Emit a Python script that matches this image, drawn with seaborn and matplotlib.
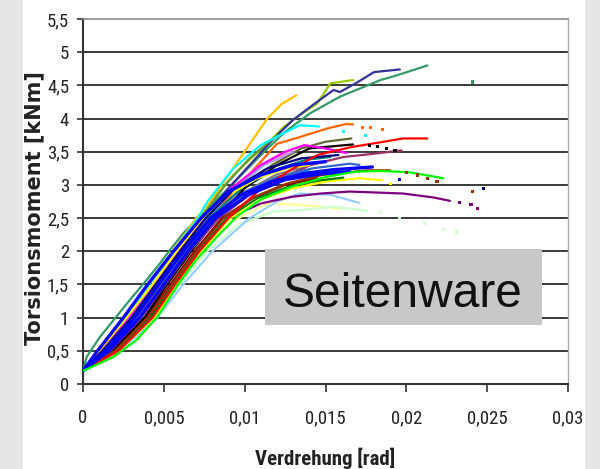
import matplotlib
matplotlib.use("Agg")
import matplotlib.pyplot as plt
from matplotlib.patches import Rectangle
import seaborn as sns
import pandas as pd

# Twist in 10^-3 rad, torsional moment in kNm, one entry per specimen
curves = {
    "c01": ("#339966", [0, 0.23, 1.05, 1.88, 2.91, 3.94, 4.77, 5.38, 6.2, 6.8, 9.0, 11.0, 12.5, 14.05, 15.9, 18.4, 19.4, 21.3],
                       [0.2, 0.41, 0.71, 0.96, 1.27, 1.57, 1.82, 2.02, 2.27, 2.42, 2.95, 3.45, 3.8, 4.08, 4.33, 4.58, 4.65, 4.80]),
    "c02": ("#FFC000", [0, 1.5, 3.0, 4.5, 6.0, 7.0, 7.66, 8.5, 9.9, 11.4, 12.3, 13.2],
                       [0.2, 0.65, 1.15, 1.65, 2.15, 2.5, 2.67, 2.97, 3.47, 4.0, 4.22, 4.35]),
    "c03": ("#99CC00", [0, 1.3, 3.0, 4.4, 5.9, 7.3, 8.3, 9.3, 10.4, 11.4, 12.4, 13.4, 14.5, 15.3, 16.7],
                       [0.2, 0.5, 1.0, 1.5, 2.0, 2.5, 2.85, 3.15, 3.4, 3.62, 3.87, 4.05, 4.23, 4.53, 4.58]),
    "c04": ("#333399", [0, 1.2, 2.9, 4.5, 6.0, 7.5, 9.0, 10.5, 11.8, 13.0, 14.3, 15.5, 15.9, 17.0, 18.0, 19.6],
                       [0.2, 0.5, 1.0, 1.5, 2.0, 2.5, 2.95, 3.35, 3.7, 3.98, 4.22, 4.43, 4.40, 4.55, 4.70, 4.74]),
    "c05": ("#669933", [0, 1.1, 2.8, 4.3, 5.8, 7.3, 8.8, 10.3, 12.0],
                       [0.2, 0.5, 1.0, 1.5, 2.0, 2.5, 3.0, 3.4, 3.75]),
    "c06": ("#FF6600", [0, 1.6, 3.4, 4.9, 6.4, 7.9, 9.5, 11.0, 12.0, 13.4, 15.1, 16.3, 16.7],
                       [0.2, 0.5, 1.0, 1.5, 2.0, 2.5, 2.95, 3.35, 3.62, 3.72, 3.85, 3.92, 3.91]),
    "c07": ("#00FFFF", [0, 1.0, 2.6, 4.1, 5.6, 7.1, 7.7, 9.3, 11.0, 13.4, 14.6],
                       [0.2, 0.5, 1.0, 1.5, 2.0, 2.5, 2.75, 3.25, 3.6, 3.9, 3.88]),
    "c08": ("#666633", [0, 1.5, 3.3, 4.8, 6.4, 8.0, 9.8, 11.7, 13.5, 15.0, 16.6],
                       [0.2, 0.5, 1.0, 1.5, 2.0, 2.5, 2.95, 3.3, 3.55, 3.65, 3.70]),
    "c09": ("#9999FF", [0, 1.3, 3.0, 4.6, 6.1, 7.7, 9.4, 11.2, 13.0],
                       [0.2, 0.5, 1.0, 1.5, 2.0, 2.5, 2.95, 3.3, 3.5]),
    "c10": ("#FF99CC", [0, 1.2, 2.9, 4.4, 6.0, 7.6, 9.2, 11.0, 12.8],
                       [0.2, 0.5, 1.0, 1.5, 2.0, 2.5, 2.95, 3.3, 3.5]),
    "c11": ("#FFCC99", [0, 1.5, 3.3, 4.8, 6.3, 7.9, 9.6, 11.5, 13.5],
                       [0.2, 0.5, 1.0, 1.5, 2.0, 2.5, 2.9, 3.2, 3.35]),
    "c12": ("#008080", [0, 1.3, 3.1, 4.6, 6.1, 7.8, 9.6, 11.6, 13.8, 15.3],
                       [0.2, 0.5, 1.0, 1.5, 2.0, 2.5, 2.9, 3.2, 3.38, 3.42]),
    "c13": ("#33CCCC", [0, 1.7, 3.6, 5.1, 6.6, 8.3, 10.1, 12.0, 14.0],
                       [0.2, 0.5, 1.0, 1.5, 2.0, 2.5, 2.85, 3.1, 3.22]),
    "c14": ("#808080", [0, 1.5, 3.4, 4.9, 6.5, 8.1, 9.9, 11.9, 14.0],
                       [0.2, 0.5, 1.0, 1.5, 2.0, 2.5, 2.88, 3.15, 3.3]),
    "c15": ("#CC99FF", [0, 1.6, 3.5, 5.0, 6.6, 8.4, 10.4, 12.3],
                       [0.2, 0.5, 1.0, 1.5, 2.0, 2.5, 2.9, 3.12]),
    "c16": ("#800000", [0, 1.9, 3.9, 5.4, 6.9, 8.6, 10.5, 12.5, 14.5],
                       [0.2, 0.5, 1.0, 1.5, 2.0, 2.5, 2.8, 3.0, 3.1]),
    "c17": ("#000000", [0, 1.8, 3.8, 5.2, 6.7, 8.3, 10.0, 12.0, 14.0, 16.7],
                       [0.2, 0.5, 1.0, 1.5, 2.0, 2.5, 2.95, 3.3, 3.55, 3.61]),
    "c18": ("#993366", [0, 1.7, 3.6, 5.1, 6.6, 8.4, 10.3, 12.2, 14.1, 16.1, 18.0, 19.7],
                       [0.2, 0.5, 1.0, 1.5, 2.0, 2.5, 2.85, 3.1, 3.3, 3.42, 3.47, 3.52]),
    "c19": ("#FF00FF", [0, 1.1, 2.8, 4.4, 5.9, 7.5, 9.2, 11.0, 12.5, 13.7, 15.0, 16.3],
                       [0.2, 0.5, 1.0, 1.5, 2.0, 2.5, 2.95, 3.3, 3.5, 3.6, 3.55, 3.48]),
    "c20": ("#FFFF99", [0, 2.1, 4.3, 5.8, 7.4, 9.2, 11.4, 13.4, 15.9],
                       [0.2, 0.5, 1.0, 1.5, 2.0, 2.45, 2.72, 2.7, 2.64]),
    "c21": ("#CCFFCC", [0, 2.2, 4.5, 6.0, 7.7, 9.6, 11.8, 13.4, 15.5, 17.6],
                       [0.2, 0.5, 1.0, 1.5, 2.0, 2.4, 2.6, 2.62, 2.67, 2.61]),
    "c22": ("#99CCFF", [0, 2.3, 4.6, 6.2, 8.0, 10.3, 12.0, 13.4, 15.3, 16.5, 17.1],
                       [0.2, 0.5, 1.0, 1.5, 2.0, 2.5, 2.75, 2.87, 2.85, 2.77, 2.73]),
    "c23": ("#800080", [0, 2.0, 4.1, 5.6, 7.2, 9.0, 11.0, 12.9, 14.7, 16.5, 17.6, 19.8, 21.7, 22.7],
                       [0.2, 0.5, 1.0, 1.5, 2.0, 2.5, 2.72, 2.82, 2.87, 2.90, 2.89, 2.87, 2.81, 2.76]),
    "c24": ("#FFFF00", [0, 1.0, 2.7, 4.3, 5.8, 7.4, 9.0, 10.8, 12.6, 14.0],
                       [0.2, 0.5, 1.0, 1.5, 2.0, 2.5, 2.85, 3.1, 3.25, 3.3]),
    "c25": ("#FFFF00", [0, 2.2, 4.4, 5.8, 7.3, 9.1, 11.0, 13.0, 15.0, 17.1, 18.5],
                       [0.2, 0.5, 1.0, 1.5, 2.0, 2.5, 2.78, 2.95, 3.05, 3.10, 3.07]),
    "c26": ("#008000", [0, 2.1, 4.2, 5.6, 7.1, 8.9, 10.8, 12.8, 14.7, 16.1],
                       [0.2, 0.5, 1.0, 1.5, 2.0, 2.5, 2.8, 2.98, 3.07, 3.11]),
    "c27": ("#993300", [0, 2.0, 4.0, 5.5, 7.0, 8.7, 10.6, 12.6, 14.8, 17.6, 19.0],
                       [0.2, 0.5, 1.0, 1.5, 2.0, 2.5, 2.82, 3.02, 3.15, 3.22, 3.22]),
    "c28": ("#3366CC", [0, 1.4, 3.2, 4.7, 6.3, 8.0, 9.9, 12.0, 14.2, 16.5, 17.1],
                       [0.2, 0.5, 1.0, 1.5, 2.0, 2.5, 2.88, 3.12, 3.25, 3.32, 3.30]),
    "c29": ("#000080", [0, 1.2, 3.0, 4.5, 6.0, 7.6, 9.4, 11.4, 13.5, 15.8],
                       [0.2, 0.5, 1.0, 1.5, 2.0, 2.5, 2.95, 3.25, 3.4, 3.45]),
    "c30": ("#FF0000", [0, 2.2, 4.3, 5.7, 7.2, 9.0, 10.8, 12.8, 14.5, 16.6, 18.6, 19.8, 21.3],
                       [0.2, 0.5, 1.0, 1.5, 2.0, 2.5, 2.9, 3.22, 3.45, 3.57, 3.65, 3.70, 3.70]),
    "c31": ("#0000FF", [0, 1.4, 3.2, 4.7, 6.2, 7.9, 9.8, 11.7, 13.6, 15.5, 17.9],
                       [0.2, 0.5, 1.0, 1.5, 2.0, 2.5, 2.85, 3.05, 3.17, 3.23, 3.27]),
    "c32": ("#0000FF", [0, 0.9, 2.5, 4.0, 5.6, 7.3, 9.0, 11.0, 13.0, 15.0],
                       [0.2, 0.5, 1.0, 1.5, 2.0, 2.5, 2.9, 3.15, 3.3, 3.35]),
    "c33": ("#0000FF", [0, 1.6, 3.5, 5.0, 6.5, 8.2, 10.2, 12.5, 14.8, 16.5],
                       [0.2, 0.5, 1.0, 1.5, 2.0, 2.5, 2.85, 3.08, 3.17, 3.2]),
    "c34": ("#00FF00", [0, 0.4, 1.9, 3.3, 4.6, 5.8, 7.0, 8.3, 9.5, 11.0, 13.0, 15.0, 16.9, 18.5, 20.2, 22.3],
                       [0.2, 0.24, 0.41, 0.66, 1.01, 1.47, 1.87, 2.22, 2.52, 2.78, 2.98, 3.12, 3.20, 3.21, 3.19, 3.10]),
}

# Sparse readings after the continuous part of some runs
tails = {
    "c01": [24.1], "c06": [17.3, 17.8, 18.5], "c07": [16.1, 17.5],
    "c17": [17.7, 18.2, 18.8, 19.3], "c27": [20.0, 20.7, 21.3, 21.9, 24.1],
    "c25": [19.0], "c23": [23.3, 24.0, 24.4], "c21": [18.4, 19.6, 21.1, 22.3, 23.1],
    "c31": [19.6], "c29": [24.8],
}
tails_y = {
    "c01": [4.55], "c06": [3.87, 3.86, 3.84], "c07": [3.80, 3.75],
    "c17": [3.59, 3.58, 3.55, 3.52], "c27": [3.19, 3.15, 3.10, 3.05, 2.90],
    "c25": [3.02], "c23": [2.73, 2.71, 2.64], "c21": [2.59, 2.50, 2.42, 2.33, 2.29],
    "c31": [3.08], "c29": [2.95],
}

y_ticks = [0, 0.5, 1, 1.5, 2, 2.5, 3, 3.5, 4, 4.5, 5, 5.5]
y_labels = ["0", "0,5", "1", "1,5", "2", "2,5", "3", "3,5", "4", "4,5", "5", "5,5"]
x_ticks = [0, 0.005, 0.01, 0.015, 0.02, 0.025, 0.03]
x_labels = ["0", "0,005", "0,01", "0,015", "0,02", "0,025", "0,03"]

sns.set_theme(style="white")
plt.rcParams["font.family"] = ["Roboto Condensed", "Liberation Sans", "DejaVu Sans"]

W, H = 600, 469
fig = plt.figure(figsize=(W / 100, H / 100), dpi=100)
fig.patch.set_facecolor("#e6e6e6")
fig.add_artist(Rectangle((23 / W, 0), (585 - 23) / W, 1, transform=fig.transFigure,
                         facecolor="white", edgecolor="none", zorder=-5))

ax = fig.add_axes([83 / W, 1 - 384 / H, (568 - 83) / W, (384 - 19) / H])
ax.set_facecolor("none")

rows = []
for name, (col, xs, ys) in curves.items():
    for xv, yv in zip(xs, ys):
        rows.append((name, xv / 1000.0, yv))
df = pd.DataFrame(rows, columns=["curve", "x", "y"])
palette = {name: spec[0] for name, spec in curves.items()}

for name in curves:
    sub = df[df["curve"] == name]
    lw = 2.4 if palette[name] == "#0000FF" else 1.6
    sns.lineplot(data=sub, x="x", y="y", color=palette[name], sort=False,
                 estimator=None, linewidth=lw, ax=ax, legend=False, zorder=3)

trows = []
for name, xs in tails.items():
    for xv, yv in zip(xs, tails_y[name]):
        trows.append((name, xv / 1000.0, yv))
tdf = pd.DataFrame(trows, columns=["curve", "x", "y"])
sns.scatterplot(data=tdf, x="x", y="y", hue="curve", palette=palette, marker="s",
                s=5, linewidth=0, ax=ax, legend=False, zorder=3)

ax.set_xlim(0, 0.03)
ax.set_ylim(0, 5.5)
ax.set_yticks(y_ticks)
ax.set_yticklabels(y_labels)
ax.set_xticks(x_ticks)
ax.set_xticklabels(x_labels)

for yv in y_ticks[1:-1]:
    ax.axhline(yv, color="#3a3a3a", linewidth=1.4, zorder=1)

ax.tick_params(axis="y", direction="out", length=4, width=1.2, color="#333333",
               pad=6, labelsize=13.5, labelcolor="#222222", left=True)
ax.tick_params(axis="x", direction="out", length=6, width=1.2, color="#333333",
               pad=12, labelsize=13.5, labelcolor="#222222", bottom=True)

for side in ("left", "bottom"):
    ax.spines[side].set_color("#333333")
    ax.spines[side].set_linewidth(1.5)
ax.spines["top"].set_color("#8a8a8a")
ax.spines["top"].set_linewidth(1.2)
ax.spines["right"].set_color("#aaaaaa")
ax.spines["right"].set_linewidth(1.0)

ax.set_xlabel("Verdrehung [rad]", fontsize=15, fontweight="bold", color="#222222")
ax.xaxis.label.set_va("baseline")
ax.xaxis.set_label_coords(0.5, (384 - 465) / 365)
ax.set_ylabel("Torsionsmoment [kNm]", fontsize=15, fontweight="bold", color="#222222",
              family=["DejaVu Sans"])
ax.yaxis.label.set_va("center")
ax.yaxis.set_label_coords((34 - 83) / 485, (384 - 208) / 365)

fig.add_artist(Rectangle((265 / W, 1 - 325 / H), (542 - 265) / W, (325 - 249) / H,
                         transform=fig.transFigure, facecolor="#c8c8c8",
                         edgecolor="none", zorder=5))
fig.text(402.5 / W, 1 - 307 / H, "Seitenware", fontsize=34.5, family="Liberation Sans",
         ha="center", va="baseline", color="#111111", zorder=6)

fig.savefig("out.png", dpi=100)
